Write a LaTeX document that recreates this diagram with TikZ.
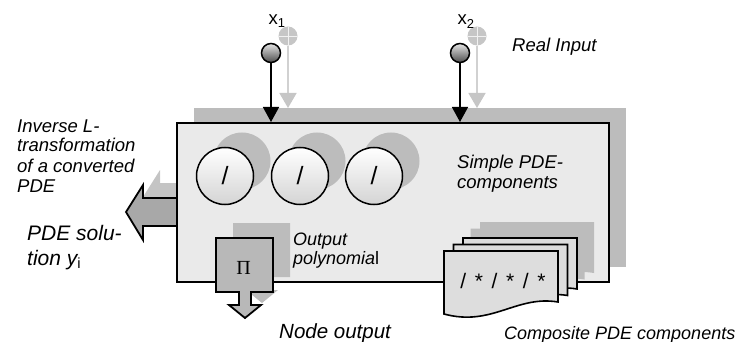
\documentclass[tikz,border=0pt]{standalone}
\usepackage{fontspec}
\setmainfont{Liberation Sans}
\newfontfamily\pifont{Liberation Serif}
\usetikzlibrary{arrows.meta,shadows}
\definecolor{shadowgray}{HTML}{BCBCBC}
\definecolor{unitfill}{HTML}{EAEAEA}
\definecolor{solfill}{HTML}{A8A8A8}
\definecolor{solshade}{HTML}{C4C4C4}
\definecolor{prodfill}{HTML}{B8B8B8}
\definecolor{docfill}{HTML}{DDDDDD}
\definecolor{circlebot}{HTML}{D4D4D4}
\definecolor{ghostgray}{HTML}{C6C6C6}

\tikzset{
  castshadow/.style={drop shadow={shadow xshift=17pt,shadow yshift=15pt,opacity=1,fill=#1}},
  castshadow/.default=shadowgray,
  unitbox/.style={draw,line width=2pt,fill=unitfill,minimum width=432pt,
    minimum height=159pt,inner sep=0pt,castshadow},
  pdecircle/.style={circle,draw,line width=1.5pt,minimum size=57pt,inner sep=0pt,
    top color=white,bottom color=circlebot,castshadow,font=\fontsize{25}{25}\selectfont},
  solarrow/.style={draw,line width=1.8pt,line join=miter,fill=solfill,castshadow=solshade},
  prodbox/.style={draw,line width=1.8pt,line join=miter,fill=prodfill,castshadow},
  docsheet/.style={draw,line width=1.6pt,fill=docfill},
  inball/.style={circle,draw,line width=1.5pt,minimum size=19pt,inner sep=0pt,
    top color=gray!20,bottom color=black!70},
  ghostball/.style={circle,fill=ghostgray,minimum size=19pt,inner sep=0pt,
    path picture={\draw[white!75!ghostgray,line width=0.7pt]
      (path picture bounding box.north) -- (path picture bounding box.south)
      (path picture bounding box.west) -- (path picture bounding box.east);}},
  inarrow/.style={line width=1.5pt,-{Triangle[length=15pt,width=16pt]}},
  ghostarrow/.style={line width=1.5pt,draw=ghostgray!80!white,
    -{Triangle[length=15pt,width=17pt,color=ghostgray]}},
  lbl/.style={font=\fontsize{18.5}{20}\selectfont\itshape,align=left,inner sep=0pt},
  biglbl/.style={font=\fontsize{21}{25}\selectfont\itshape,align=left,inner sep=0pt},
  pics/pdedoc/.style={code={
    \path[pic actions] (0,0) -- (114,0) -- (114,51)
      .. controls (72,44) and (48,76) .. (0,63) -- cycle;}}
}

\begin{document}
\begin{tikzpicture}[x=1pt,y=-1pt]
  \useasboundingbox (0,0) rectangle (747,342);

  % solution arrow leaving the unit to the left
  \filldraw[solarrow] (186,198) -- (143,198) -- (143,185) -- (126,212)
    -- (143,240) -- (143,226) -- (186,226) -- cycle;

  % the unit
  \node[unitbox] (unit) at (393,202.5) {};
  \coordinate (unitshade) at (0,108);

  % simple components
  \node[pdecircle] (c1) at (225,176) {/};
  \node[pdecircle] (c2) at (300,176) {/};
  \node[pdecircle] (c3) at (374,176) {/};

  % output polynomial with its arrow
  \filldraw[prodbox] (216,238) -- (273,238) -- (273,292) -- (251,292) -- (251,305)
    -- (261,305) -- (245,318) -- (229,305) -- (239,305) -- (239,292) -- (216,292) -- cycle;
  \node[font=\fontsize{20}{20}\selectfont\pifont] (prod) at (243.5,268) {Π};

  % composite components, stacked sheets
  \pic[fill=shadowgray] (shd3) at (480,222) {pdedoc};
  \pic[fill=shadowgray] (shd2) at (470.5,228.5) {pdedoc};
  \pic[docsheet] (doc3) at (463,238) {pdedoc};
  \pic[docsheet] (doc2) at (453.5,244.5) {pdedoc};
  \pic[docsheet] (doc1) at (444,251) {pdedoc};
  \node[font=\fontsize{21}{21}\selectfont] (ops) at (503,281)
    {\spaceskip 8.6pt\relax / * / * / *};

  % real inputs
  \foreach \i/\x in {1/271,2/460}{
    \node[ghostball] (gin\i) at (\x+17,36) {};
    \draw[ghostarrow] (gin\i) -- (gin\i |- unitshade);
    \node[inball] (in\i) at (\x,53) {};
    \draw[inarrow] (in\i) -- (in\i |- unit.north);
    \node[font=\fontsize{18.5}{20}\selectfont,anchor=base,inner sep=0pt] (lblx\i)
      at (\x+6,25) {x\textsubscript{\i}};
  }

  % labels (base = last line)
  \node[lbl,anchor=base west] (invlbl) at (17,192)
    {Inverse L-\\transformation\\of a converted\\PDE};
  \node[biglbl,anchor=base west] (sollbl) at (27,265)
    {PDE solu-\\tion y\textsubscript{\upshape i}};
  \node[lbl,anchor=base west] (reallbl) at (512,52) {Real Input};
  \node[lbl,anchor=base west] (simplelbl) at (457,188) {Simple PDE-\\components};
  \node[lbl,font=\fontsize{18}{18.5}\selectfont\itshape,anchor=base west] (outlbl)
    at (293,264) {Output\\polynomia\textup{l}};
  \node[biglbl,font=\fontsize{20.5}{25}\selectfont\itshape,anchor=base west] (nodelbl)
    at (279,338) {Node output};
  \node[lbl,font=\fontsize{18}{20}\selectfont\itshape,anchor=base west] (complbl)
    at (504,339) {Composite PDE components};
\end{tikzpicture}
\end{document}
